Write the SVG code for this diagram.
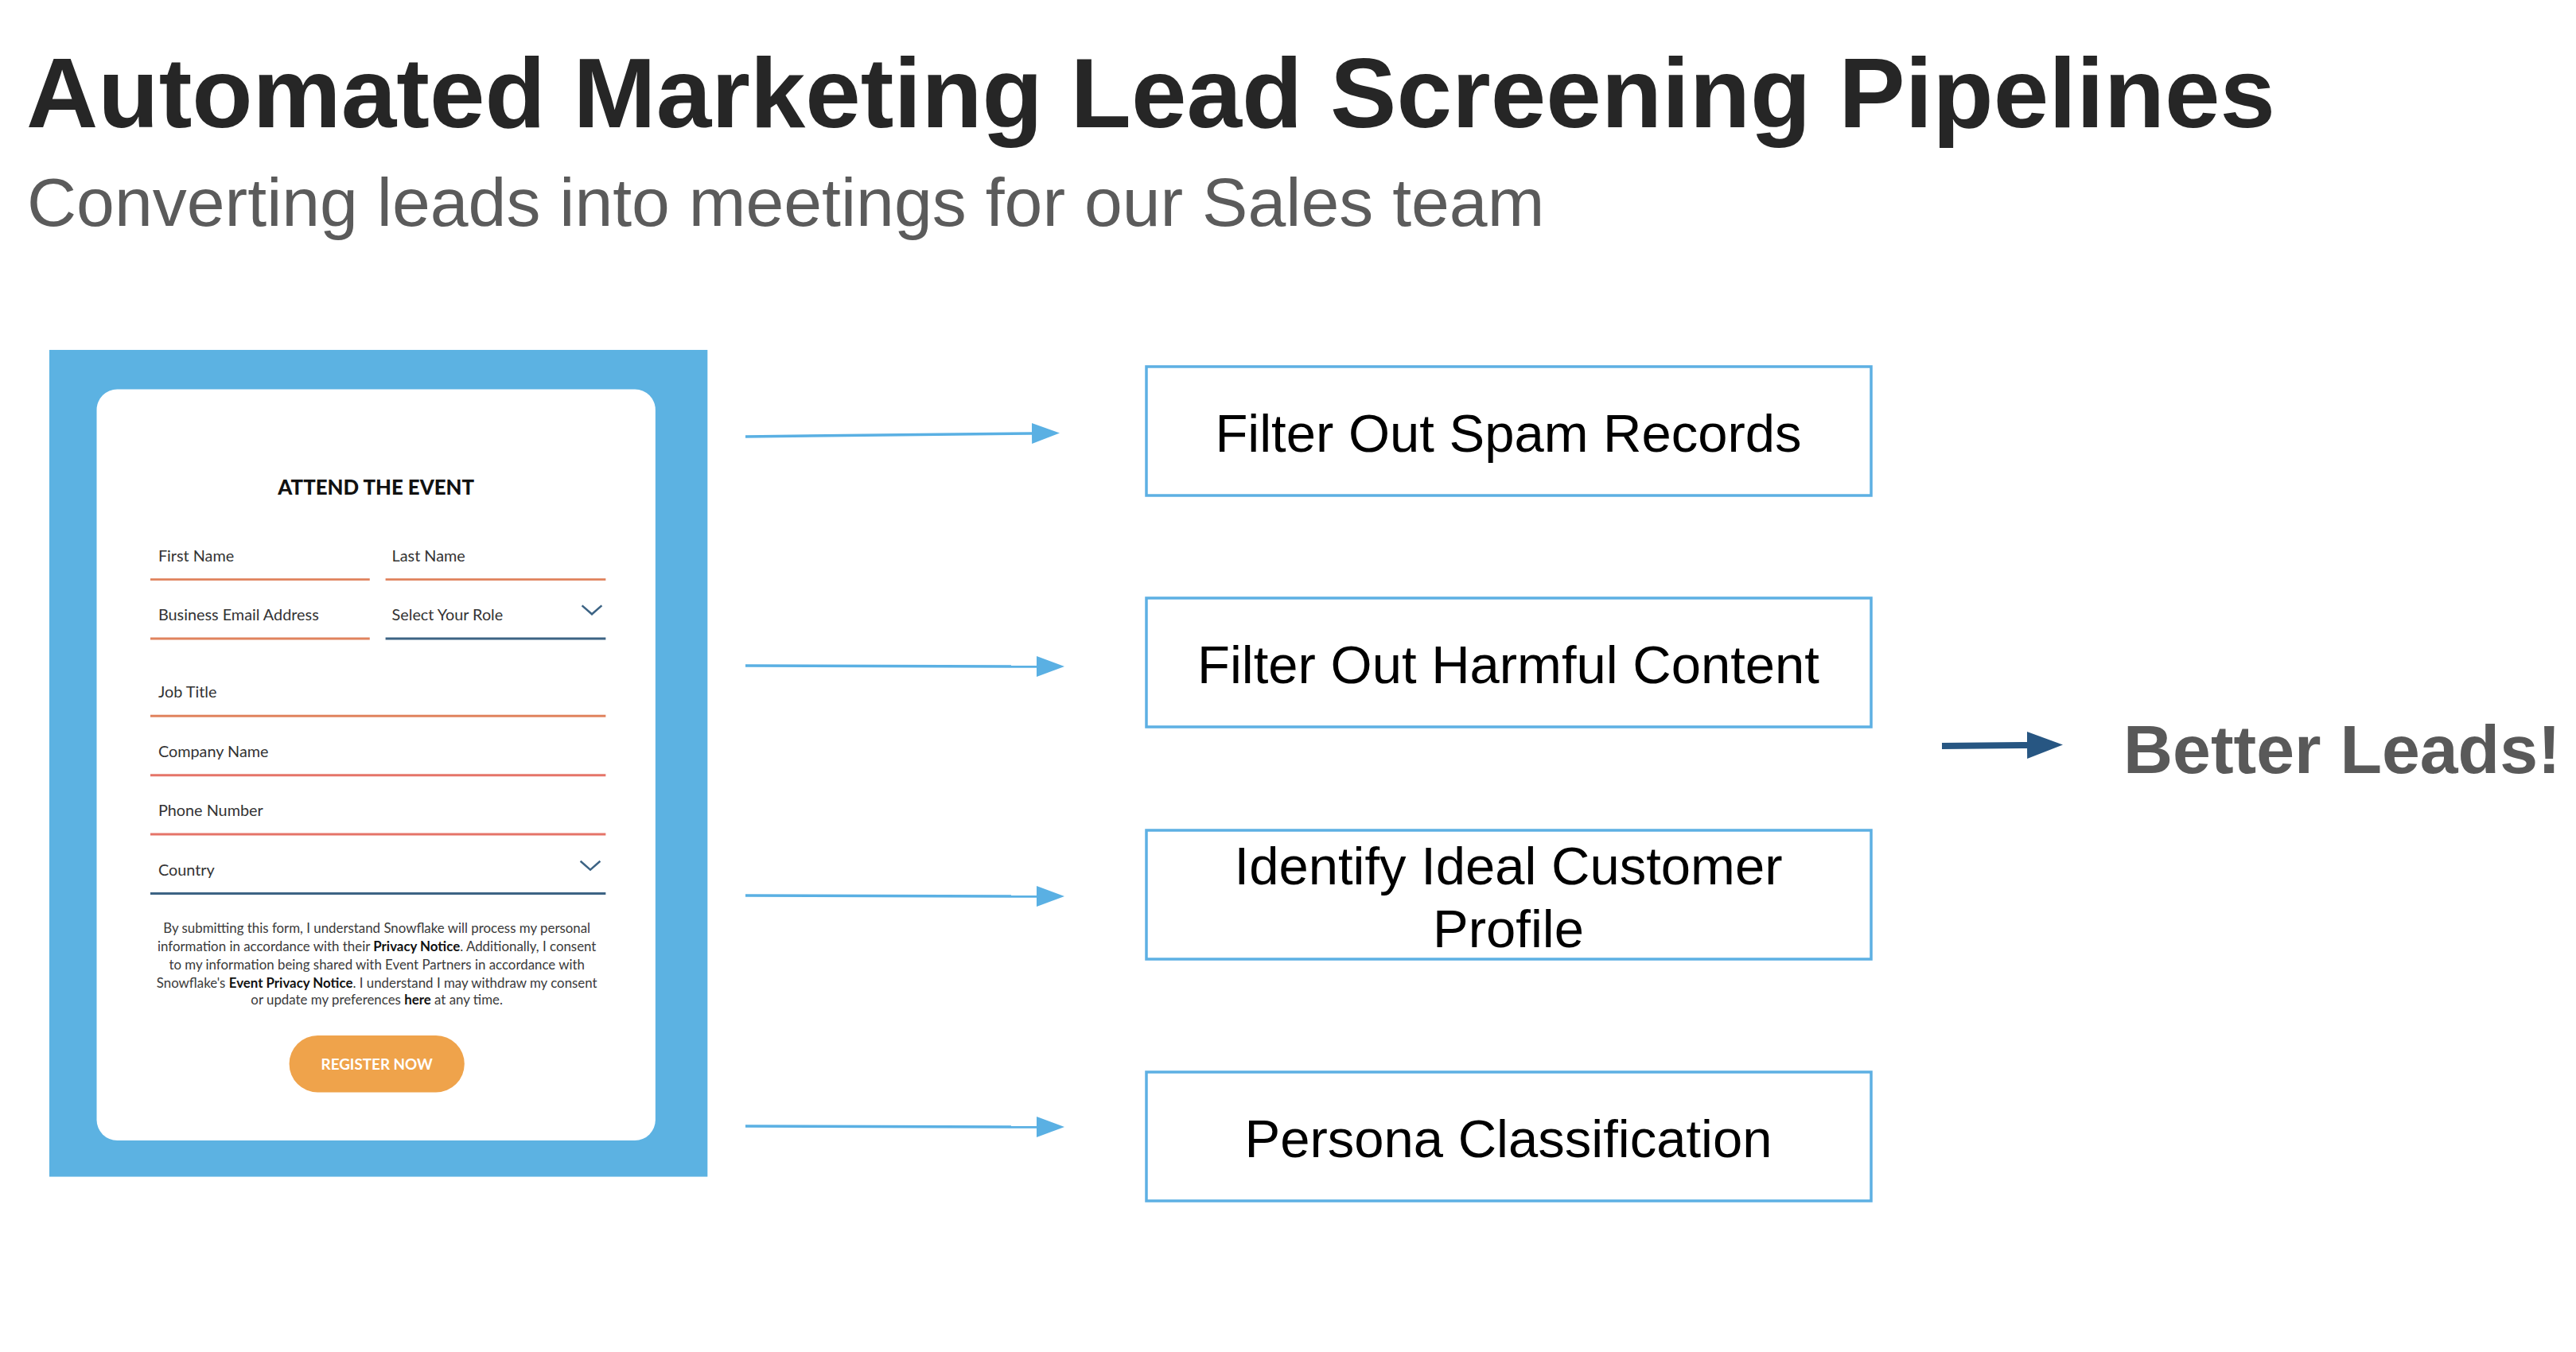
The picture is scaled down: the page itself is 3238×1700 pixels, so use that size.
<svg xmlns="http://www.w3.org/2000/svg" width="3238" height="1700" viewBox="0 0 3238 1700">
<style>
.title{font-family:"Liberation Sans",Arial,sans-serif;font-weight:bold;font-size:125px;fill:#262626}
.sub{font-family:"Liberation Sans",Arial,sans-serif;font-size:86px;fill:#5b5b5b}
.box{fill:#ffffff;stroke:#5DB0E3;stroke-width:3.5}
.btxt{font-family:"Liberation Sans",Arial,sans-serif;font-size:67px;fill:#000000;text-anchor:middle}
.lab{font-family:Lato,"Open Sans",sans-serif;font-size:20px;fill:#333333}
.para{font-family:Lato,"Open Sans",sans-serif;font-size:17px;fill:#3a3a3a;text-anchor:middle}
.para tspan.b{font-weight:bold;fill:#111111}
.ul{stroke:#E0835E;stroke-width:3;fill:none}
.ulr{stroke:#E57468;stroke-width:3;fill:none}
.ub{stroke:#3C6384;stroke-width:3;fill:none}
.chev{stroke:#3C6384;stroke-width:2.5;fill:none}
.conn{stroke:#5AB0E3;stroke-width:3.5;fill:none}
.conn2{stroke:#275682;stroke-width:8;fill:none}
</style>
<defs>
<marker id="ah" markerUnits="userSpaceOnUse" markerWidth="36" markerHeight="26" refX="0" refY="13" orient="auto">
<path d="M0,0 L35,13 L0,26 Z" fill="#5AB0E3"/>
</marker>
<marker id="ah2" markerUnits="userSpaceOnUse" markerWidth="46" markerHeight="34" refX="0" refY="17" orient="auto">
<path d="M0,0 L45,17 L0,34 Z" fill="#275682"/>
</marker>
</defs>
<rect width="3238" height="1700" fill="#ffffff"/>
<g id="header">
<text class="title" x="33" y="160">Automated Marketing Lead Screening Pipelines</text>
<text class="sub" x="34" y="284">Converting leads into meetings for our Sales team</text>
</g>
<g id="form" transform="matrix(0.992,0,0,0.992,0.5,1.5)">
<rect x="62" y="442" width="834" height="1048" fill="#5CB2E2"/>
<rect x="122" y="492" width="708" height="952" rx="26" fill="#ffffff"/>
<text x="476" y="626" font-family="Lato,'Open Sans',sans-serif" font-weight="900" font-size="26" fill="#111111" text-anchor="middle">ATTEND THE EVENT</text>
<text class="lab" x="200" y="710">First Name</text>
<text class="lab" x="496" y="710">Last Name</text>
<path class="ul" d="M190,733 H468 M488,733 H767"/>
<text class="lab" x="200" y="785">Business Email Address</text>
<text class="lab" x="496" y="785">Select Your Role</text>
<path class="ul" d="M190,808 H468"/>
<path class="ub" d="M488,808 H767"/>
<path class="chev" d="M737,766 L749.5,777 L762,766"/>
<text class="lab" x="200" y="883">Job Title</text>
<path class="ul" d="M190,906 H767"/>
<text class="lab" x="200" y="958">Company Name</text>
<path class="ulr" d="M190,981 H767"/>
<text class="lab" x="200" y="1033">Phone Number</text>
<path class="ulr" d="M190,1056 H767"/>
<text class="lab" x="200" y="1108">Country</text>
<path class="ub" d="M190,1131 H767"/>
<path class="chev" d="M735,1090 L747.5,1101 L760,1090"/>
<text class="para" x="477" y="1181">By submitting this form, I understand Snowflake will process my personal</text>
<text class="para" x="477" y="1204">information in accordance with their <tspan class="b">Privacy Notice</tspan>. Additionally, I consent</text>
<text class="para" x="477" y="1227">to my information being shared with Event Partners in accordance with</text>
<text class="para" x="477" y="1250">Snowflake's <tspan class="b">Event Privacy Notice</tspan>. I understand I may withdraw my consent</text>
<text class="para" x="477" y="1272">or update my preferences <tspan class="b">here</tspan> at any time.</text>
<rect x="366" y="1311" width="222" height="72" rx="36" fill="#EFA34B"/>
<text x="477" y="1354" font-family="Lato,'Open Sans',sans-serif" font-weight="bold" font-size="19" fill="#ffffff" text-anchor="middle">REGISTER NOW</text>
</g>
<g id="connectors">
<path class="conn" d="M937,549 L1297,545" marker-end="url(#ah)"/>
<path class="conn" d="M937,837 L1303,838" marker-end="url(#ah)"/>
<path class="conn" d="M937,1126 L1303,1127" marker-end="url(#ah)"/>
<path class="conn" d="M937,1416 L1303,1417" marker-end="url(#ah)"/>
<path class="conn2" d="M2441,938 L2548,937" marker-end="url(#ah2)"/>
</g>
<g id="node-spam">
<rect class="box" x="1441" y="461" width="911" height="162"/>
<text class="btxt" x="1896" y="568">Filter Out Spam Records</text>
</g>
<g id="node-harmful">
<rect class="box" x="1441" y="752" width="911" height="162"/>
<text class="btxt" x="1896" y="859">Filter Out Harmful Content</text>
</g>
<g id="node-icp">
<rect class="box" x="1441" y="1044" width="911" height="162"/>
<text class="btxt" x="1896" y="1112">Identify Ideal Customer</text>
<text class="btxt" x="1896" y="1191">Profile</text>
</g>
<g id="node-persona">
<rect class="box" x="1441" y="1348" width="911" height="162"/>
<text class="btxt" x="1896" y="1455">Persona Classification</text>
</g>
<g id="result">
<text x="2669" y="972" font-family="'Liberation Sans',Arial,sans-serif" font-weight="bold" font-size="86" fill="#595959">Better Leads!</text>
</g>
</svg>
